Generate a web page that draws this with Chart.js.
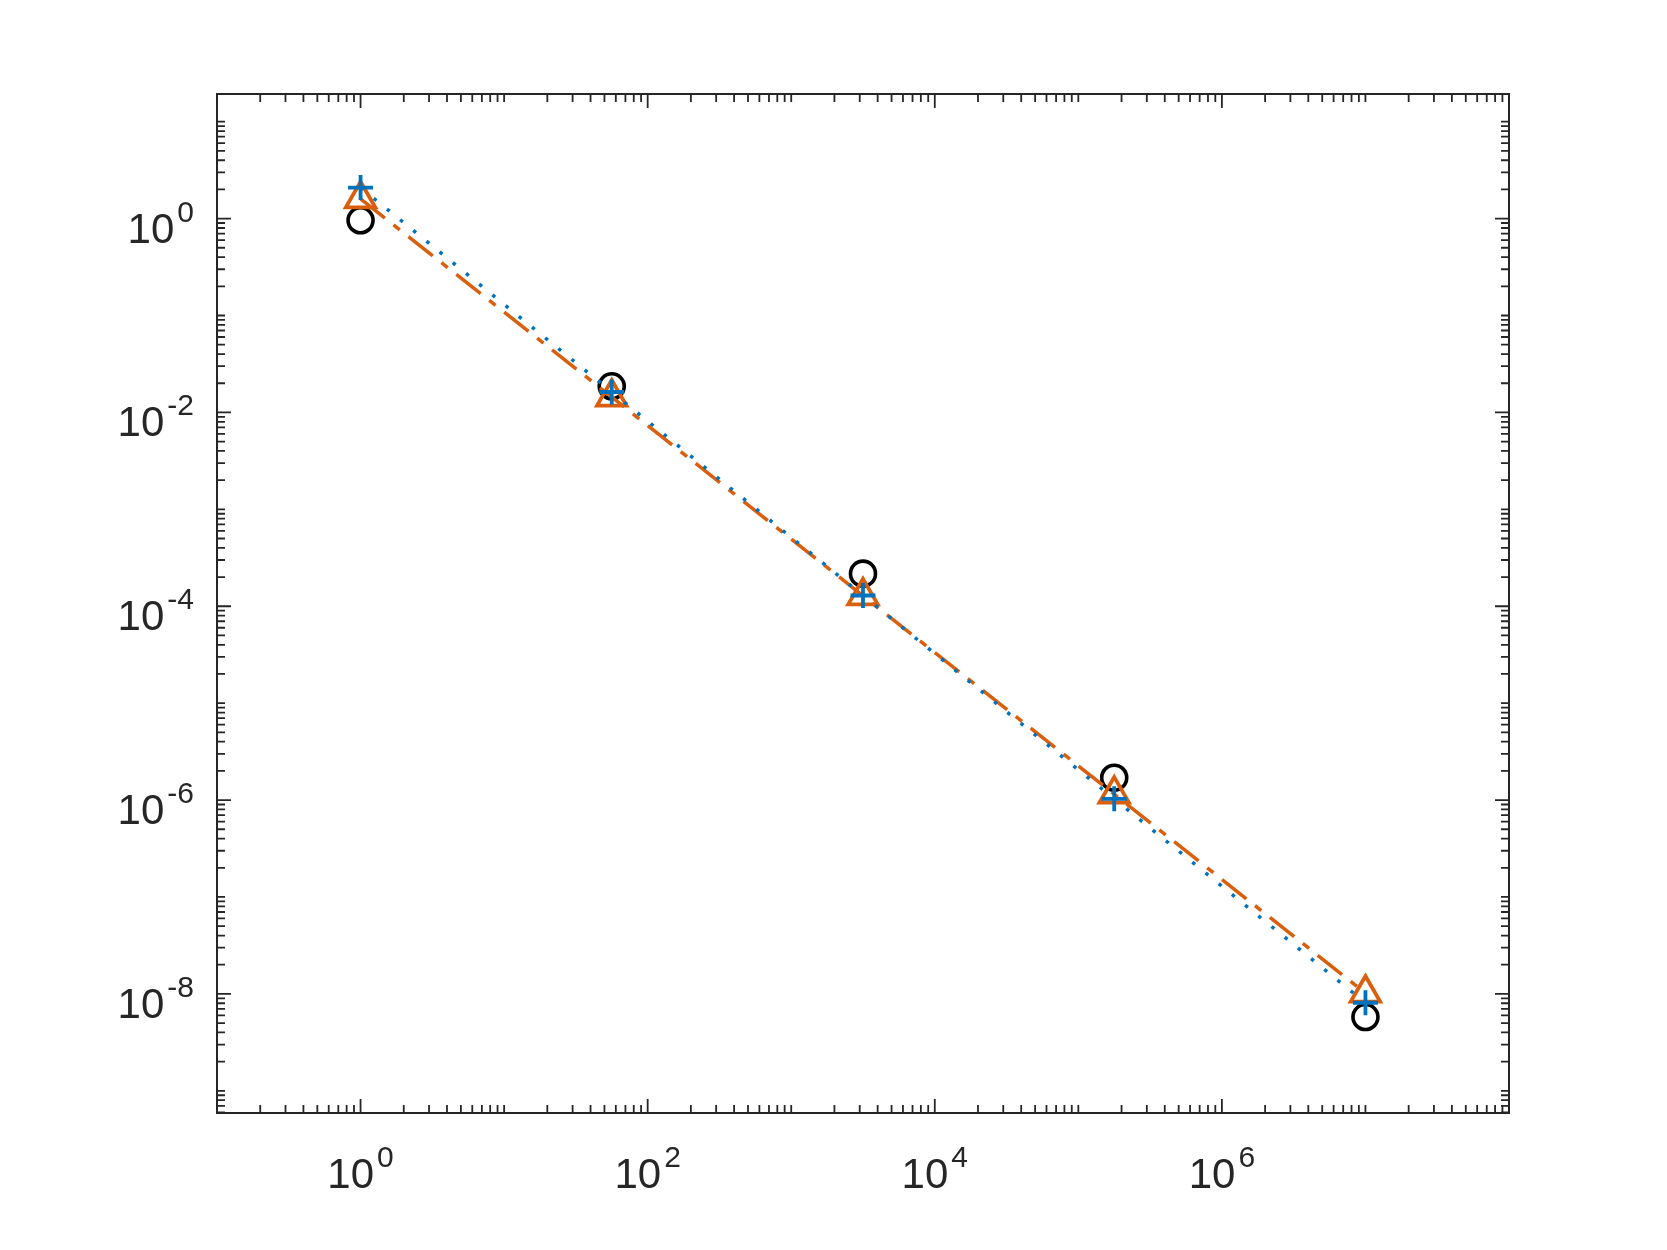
<!DOCTYPE html>
<html>
<head>
<meta charset="utf-8">
<script src="https://cdn.jsdelivr.net/npm/chart.js@4"></script>
<style>
  html, body { margin: 0; padding: 0; background: #ffffff; }
  canvas { display: block; }
</style>
</head>
<body>
<canvas id="chart" width="1667" height="1250"></canvas>
<script>
// values
const xValues = [1, 56.2, 3162, 177800, 10000000];
const circleValues = [0.96, 0.0186, 0.000217, 0.0000017, 5.77e-9];
const triangleValues = [1.6, 0.0144, 0.000128, 0.00000115, 1.02e-8];
const plusValues = [2.09, 0.01625, 0.000129, 0.00000103, 8.1e-9];

// axis ticks: labelled decades (exponents) and limits
const xTickExponents = [0, 2, 4, 6];
const yTickExponents = [0, -2, -4, -6, -8];
const xLimits = [0.1, 100000000];
const yLimits = [5.9e-10, 19.3];

const axisColor = '#262626';
const fontName = '"Liberation Sans", Arial, Helvetica, sans-serif';

function toPoints(ys) {
    return xValues.map((x, i) => ({ x: x, y: ys[i] }));
}

// MATLAB-like box with inward ticks and 10^n labels
const matlabAxes = {
    id: 'matlabAxes',
    beforeDatasetsDraw(chart) {
        const ctx = chart.ctx;
        const area = chart.chartArea;
        const xs = chart.scales.x;
        const ys = chart.scales.y;
        ctx.save();
        ctx.strokeStyle = axisColor;
        ctx.lineWidth = 2;
        ctx.strokeRect(area.left, area.top, area.right - area.left, area.bottom - area.top);

        ctx.lineWidth = 1.8;
        ctx.beginPath();
        // x ticks (bottom + top)
        for (let e = -1; e <= 8; e++) {
            for (let m = 1; m <= 9; m++) {
                const v = m * Math.pow(10, e);
                if (v < xLimits[0] * 0.999 || v > xLimits[1] * 1.001) continue;
                const px = xs.getPixelForValue(v);
                const len = (m === 1 && xTickExponents.includes(e)) ? 14 : 8;
                ctx.moveTo(px, area.bottom); ctx.lineTo(px, area.bottom - len);
                ctx.moveTo(px, area.top); ctx.lineTo(px, area.top + len);
            }
        }
        // y ticks (left + right)
        for (let e = -10; e <= 1; e++) {
            for (let m = 1; m <= 9; m++) {
                const v = m * Math.pow(10, e);
                if (v < yLimits[0] || v > yLimits[1]) continue;
                const py = ys.getPixelForValue(v);
                const len = (m === 1 && yTickExponents.includes(e)) ? 14 : 8;
                ctx.moveTo(area.left, py); ctx.lineTo(area.left + len, py);
                ctx.moveTo(area.right, py); ctx.lineTo(area.right - len, py);
            }
        }
        ctx.stroke();
        ctx.restore();
    },
    afterDraw(chart) {
        const ctx = chart.ctx;
        const area = chart.chartArea;
        const xs = chart.scales.x;
        const ys = chart.scales.y;
        const baseFont = '42px ' + fontName;
        const expFont = '30px ' + fontName;
        const gap = 3;
        ctx.save();
        ctx.fillStyle = axisColor;
        ctx.textBaseline = 'alphabetic';
        ctx.textAlign = 'left';

        function widths(exp) {
            ctx.font = baseFont;
            const bw = ctx.measureText('10').width;
            ctx.font = expFont;
            const ew = ctx.measureText(String(exp)).width;
            return [bw, ew];
        }

        // y labels, right aligned left of the axis
        yTickExponents.forEach(e => {
            const py = ys.getPixelForValue(Math.pow(10, e));
            const [bw, ew] = widths(e);
            const right = area.left - 23;
            ctx.font = expFont;
            ctx.fillText(String(e), right - ew, py + 3);
            ctx.font = baseFont;
            ctx.fillText('10', right - ew - bw - gap, py + 24);
        });

        // x labels, centred under the tick
        xTickExponents.forEach(e => {
            const px = xs.getPixelForValue(Math.pow(10, e));
            const [bw, ew] = widths(e);
            const left = px - (bw + ew + gap) / 2;
            ctx.font = baseFont;
            ctx.fillText('10', left, area.bottom + 75);
            ctx.font = expFont;
            ctx.fillText(String(e), left + bw + gap, area.bottom + 54);
        });
        ctx.restore();
    }
};

const ctx = document.getElementById('chart').getContext('2d');
const chart = new Chart(ctx, {
    type: 'line',
    data: {
        datasets: [
            {
                data: toPoints(circleValues),
                showLine: false,
                pointStyle: 'circle',
                pointRadius: 12.5,
                pointBorderWidth: 3.6,
                pointBorderColor: '#000000',
                pointBackgroundColor: 'rgba(0,0,0,0)',
                borderColor: '#000000',
                order: 3
            },
            {
                data: toPoints(triangleValues),
                borderColor: '#D95F0E',
                borderWidth: 3.5,
                borderDash: [31, 11, 8, 11],
                pointStyle: 'triangle',
                pointRadius: 17,
                pointBorderWidth: 3.8,
                pointBorderColor: '#D95F0E',
                pointBackgroundColor: 'rgba(0,0,0,0)',
                tension: 0,
                fill: false,
                order: 2
            },
            {
                data: toPoints(plusValues),
                borderColor: '#0072BD',
                borderWidth: 3.5,
                borderDash: [3.5, 13.5],
                pointStyle: 'cross',
                pointRadius: 12.5,
                pointBorderWidth: 3.8,
                pointBorderColor: '#0072BD',
                pointBackgroundColor: 'rgba(0,0,0,0)',
                tension: 0,
                fill: false,
                order: 1
            }
        ]
    },
    options: {
        responsive: false,
        animation: false,
        devicePixelRatio: 1,
        layout: {
            padding: { left: 217, top: 94, right: 158, bottom: 137 }
        },
        plugins: {
            legend: { display: false },
            tooltip: { enabled: false }
        },
        elements: {
            point: { hoverRadius: 12.5 }
        },
        scales: {
            x: {
                type: 'logarithmic',
                min: xLimits[0],
                max: xLimits[1],
                display: false
            },
            y: {
                type: 'logarithmic',
                min: yLimits[0],
                max: yLimits[1],
                display: false
            }
        }
    },
    plugins: [matlabAxes]
});
</script>
</body>
</html>
